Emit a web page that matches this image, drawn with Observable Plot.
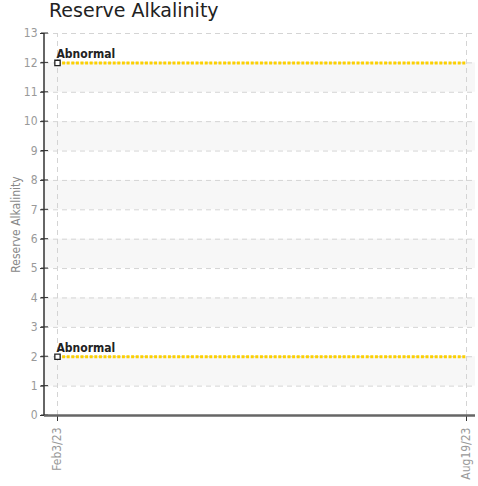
<!DOCTYPE html>
<html><head><meta charset="utf-8">
<script src="https://cdn.jsdelivr.net/npm/d3@7"></script>
<script src="https://cdn.jsdelivr.net/npm/@observablehq/plot@0.6"></script>
<style>
body{margin:0;background:#fff;}
#title{position:absolute;left:49px;top:-1px;font:19px "DejaVu Sans",sans-serif;color:#222;white-space:nowrap;}
#chart{position:absolute;left:0;top:24px;}
</style></head><body>
<div id="title">Reserve Alkalinity</div>
<div id="chart"></div>
<script>
const dates = ["2023-02-03", "2023-08-19"];
const tickLabels = ["Feb3/23", "Aug19/23"];
const upperLimit = [12, 12];
const lowerLimit = [2, 2];
const limitLabel = "Abnormal";
const yTicks = [0,1,2,3,4,5,6,7,8,9,10,11,12,13];
const yLabel = "Reserve Alkalinity";

const parse = d3.utcParse("%Y-%m-%d");
const xDates = dates.map(parse);
const upper = xDates.map((d, i) => ({date: d, value: upperLimit[i]}));
const lower = xDates.map((d, i) => ({date: d, value: lowerLimit[i]}));
const bands = yTicks.filter(t => t % 2 === 1 && t < 13).map(t => ({y1: t, y2: t + 1}));
const labelMap = new Map(xDates.map((d, i) => [+d, tickLabels[i]]));
const font = '"DejaVu Sans Condensed","Liberation Sans Narrow","DejaVu Sans",sans-serif';

const chart = Plot.plot({
  width: 478,
  height: 462,
  marginTop: 9,
  marginBottom: 71,
  marginLeft: 44,
  marginRight: 3,
  style: {fontFamily: font, fontSize: "12px", color: "#888", background: "#fff"},
  x: {type: "utc", domain: xDates, range: [57, 466]},
  y: {domain: [0, 13]},
  marks: [
    Plot.rect(bands, {y1: "y1", y2: "y2", fill: "#f7f7f7"}),
    Plot.ruleY(yTicks, {stroke: "#d4d4d4", strokeDasharray: "5,4", strokeWidth: 1}),
    Plot.ruleX(xDates, {stroke: "#d4d4d4", strokeDasharray: "5,4", strokeWidth: 1, y1: 0, y2: 13}),
    Plot.axisY({ticks: yTicks, tickSize: 4, tickPadding: 3, stroke: "#333", color: "#999", fontSize: 12, label: null, tickFormat: d => d}),
    Plot.tickY(yTicks, {y: d => d, stroke: "#333", render: (index, scales, values, dims) => {
      const g = d3.create("svg:g");
      for (const i of index) {
        g.append("line").attr("x1", dims.marginLeft - 3).attr("x2", dims.marginLeft + 4)
          .attr("y1", values.y[i]).attr("y2", values.y[i]).attr("stroke", "#333");
      }
      return g.node();
    }}),
    Plot.axisX({ticks: xDates, tickSize: 6, tickPadding: 6, tickRotate: -90, stroke: "#333", color: "#999", fontSize: 12, label: null, tickFormat: d => labelMap.get(+d)}),
    Plot.ruleY([0], {stroke: "#666", strokeWidth: 2.5}),
    Plot.text([yLabel], {text: d => d, frameAnchor: "left", textAnchor: "middle", dx: -28, rotate: -90, fill: "#888", fontSize: 12, y: () => 6.5}),
    Plot.line(upper, {x: "date", y: "value", stroke: "#fcd000", strokeWidth: 3, strokeDasharray: "3,1.6", strokeLinecap: "butt"}),
    Plot.line(lower, {x: "date", y: "value", stroke: "#fcd000", strokeWidth: 3, strokeDasharray: "3,1.6", strokeLinecap: "butt"}),
    Plot.dot([upper[0], lower[0]], {x: "date", y: "value", symbol: "square", r: 3, fill: "#fff", stroke: "#222", strokeWidth: 1.3}),
    Plot.text([upper[0], lower[0]], {x: "date", y: "value", text: () => limitLabel, textAnchor: "start", dx: -1, dy: -9, fill: "#222", fontSize: 12, fontWeight: "bold", style: "text-shadow: 1px 1px 1px #bbb"})
  ]
});
d3.select(chart).append("line").attr("x1", 44).attr("x2", 44).attr("y1", 9).attr("y2", 391).attr("stroke", "#333").attr("stroke-width", 1.5);
document.getElementById("chart").appendChild(chart);
</script>
</body></html>
